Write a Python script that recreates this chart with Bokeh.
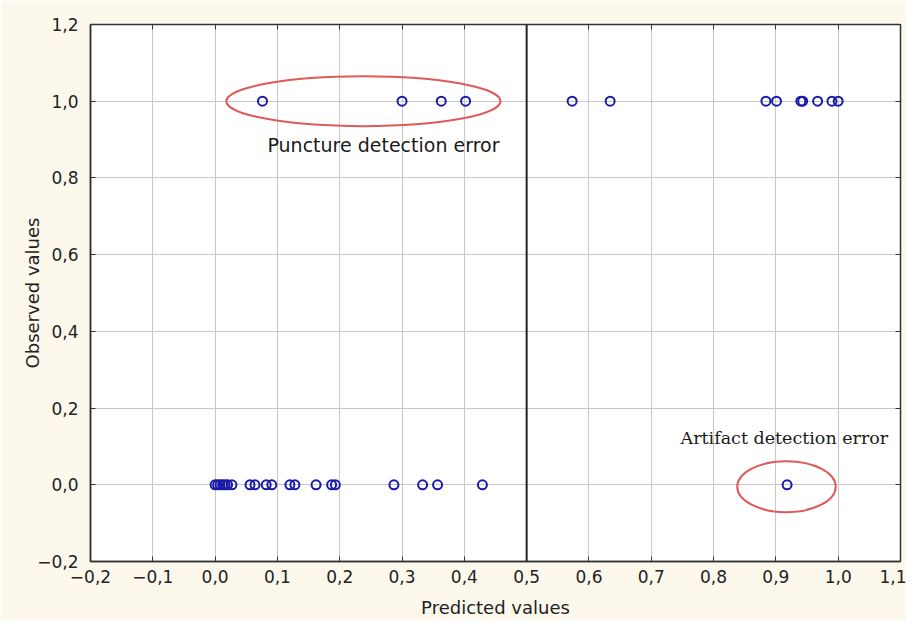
from bokeh.plotting import figure
from bokeh.models import LinearAxis, FixedTicker, Span, Range1d
from bokeh.core.properties import value
from bokeh.embed import file_html
from bokeh.resources import INLINE

# Data
pred_obs0 = [0.0, 0.004, 0.008, 0.012, 0.016, 0.02, 0.027, 0.056, 0.064, 0.082, 0.091,
             0.12, 0.128, 0.162, 0.187, 0.193, 0.287, 0.333, 0.357, 0.429, 0.918]
obs0 = [0.0] * len(pred_obs0)
pred_obs1 = [0.076, 0.3, 0.363, 0.402, 0.573, 0.634, 0.884, 0.901, 0.94, 0.943, 0.967, 0.99, 1.0]
obs1 = [1.0] * len(pred_obs1)

x_ticks = [-0.2, -0.1, 0.0, 0.1, 0.2, 0.3, 0.4, 0.5, 0.6, 0.7, 0.8, 0.9, 1.0, 1.1]
y_ticks = [-0.2, 0.0, 0.2, 0.4, 0.6, 0.8, 1.0, 1.2]

# Annotation ellipses (center x, center y, width, height) in data units
ell_x = [0.238, 0.917]
ell_y = [1.0, -0.005]
ell_w = [0.44, 0.158]
ell_h = [0.13, 0.133]
ann_text = ["Puncture detection error", "Artifact detection error"]
ann_x = [0.084, 0.747]
ann_y = [0.885, 0.123]


def fmt(v):
    s = f"{abs(v):.1f}".replace(".", ",")
    return ("\u2212" + s) if v < -1e-9 else s


p = figure(frame_width=810, frame_height=537, output_backend="svg", toolbar_location=None,
           x_range=Range1d(-0.2, 1.1), y_range=Range1d(-0.2, 1.2),
           min_border_left=90, min_border_right=6, min_border_top=24, min_border_bottom=55,
           x_axis_label="Predicted values", y_axis_label="Observed values")
p.border_fill_color = "#fcf9ec"
p.background_fill_color = "white"
p.outline_line_color = "#333333"
p.outline_line_width = 1.5

for ax, ticks, nminor in ((p.xaxis[0], x_ticks, 4), (p.yaxis[0], y_ticks, 2)):
    ax.ticker = FixedTicker(ticks=ticks, num_minor_ticks=nminor)
    ax.major_label_overrides = {t: fmt(t) for t in ticks}
    ax.major_label_text_font = "DejaVu Sans"
    ax.major_label_text_font_size = "17px"
    ax.major_label_text_color = "#222222"
    ax.axis_label_text_font = "DejaVu Sans"
    ax.axis_label_text_font_size = "18px"
    ax.axis_label_text_font_style = "normal"
    ax.axis_label_text_color = "#222222"
    ax.axis_line_color = "#333333"
    ax.axis_line_width = 1.5
    ax.major_tick_in = 5
    ax.major_tick_out = 0
    ax.minor_tick_in = 3
    ax.minor_tick_out = 0
    ax.major_tick_line_color = "#333333"
    ax.minor_tick_line_color = "#333333"
p.xaxis[0].major_label_standoff = 8
p.yaxis[0].major_label_standoff = 12
p.xaxis[0].axis_label_standoff = 11
p.yaxis[0].axis_label_standoff = -9

for loc in ("right", "above"):
    ticks = y_ticks if loc == "right" else x_ticks
    ax = LinearAxis(ticker=FixedTicker(ticks=ticks, num_minor_ticks=2 if loc == "right" else 4),
                    major_label_text_color=None, major_label_text_font_size="1px",
                    major_label_standoff=0,
                    axis_line_color="#333333", major_tick_in=5, major_tick_out=0,
                    minor_tick_in=3, minor_tick_out=0,
                    major_tick_line_color="#333333", minor_tick_line_color="#333333")
    p.add_layout(ax, loc)

p.xgrid.ticker = FixedTicker(ticks=x_ticks)
p.ygrid.ticker = FixedTicker(ticks=y_ticks)
p.grid.grid_line_color = "#c8c8c8"
p.grid.grid_line_width = 1

p.add_layout(Span(location=0.5, dimension="height", line_color="#222222", line_width=2))

p.ellipse(x=ell_x, y=ell_y, width=ell_w, height=ell_h, fill_color=None,
          line_color="#e05a5a", line_width=2)

p.scatter(pred_obs0, obs0, marker="circle", size=9, fill_color=None,
          line_color="#1a1aa8", line_width=2)
p.scatter(pred_obs1, obs1, marker="circle", size=9, fill_color=None,
          line_color="#1a1aa8", line_width=2)

p.text(x=[ann_x[0]], y=[ann_y[0]], text=[ann_text[0]], text_font=value("DejaVu Sans"),
       text_font_size="19px", text_color="#1a1a1a", text_baseline="middle", text_align="left")
p.text(x=[ann_x[1]], y=[ann_y[1]], text=[ann_text[1]], text_font=value("DejaVu Serif"),
       text_font_size="17.5px", text_color="#1a1a1a", text_baseline="middle", text_align="left")

open("out.html", "w").write(file_html(p, INLINE))
